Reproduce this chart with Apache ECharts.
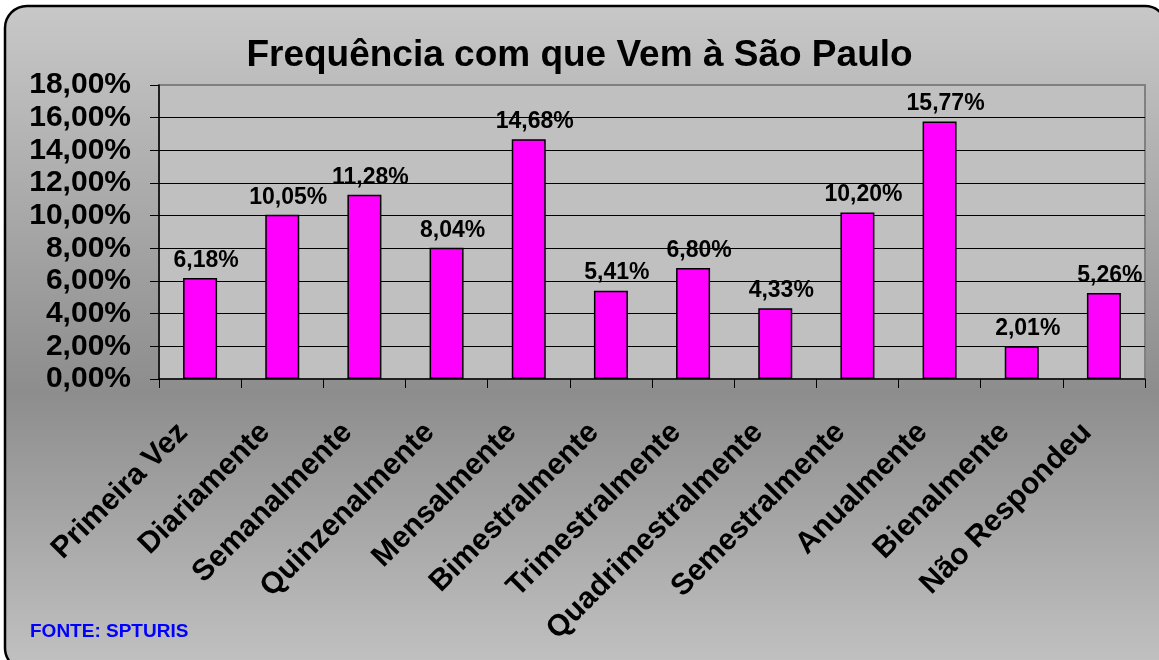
<!DOCTYPE html>
<html>
<head>
<meta charset="utf-8">
<script src="https://cdn.jsdelivr.net/npm/echarts@6/dist/echarts.min.js"></script>
<style>
  html, body { margin: 0; padding: 0; background: #fff; }
  #chart { width: 1159px; height: 660px; }
</style>
</head>
<body>
<div id="chart"></div>
<script>
const categories = ['Primeira Vez', 'Diariamente', 'Semanalmente', 'Quinzenalmente', 'Mensalmente',
  'Bimestralmente', 'Trimestralmente', 'Quadrimestralmente', 'Semestralmente', 'Anualmente',
  'Bienalmente', 'Não Respondeu'];
const values = [6.18, 10.05, 11.28, 8.04, 14.68, 5.41, 6.80, 4.33, 10.20, 15.77, 2.01, 5.26];
const titleText = 'Frequência com que Vem à São Paulo';
const sourceText = 'FONTE: SPTURIS';

const font = 'Arial, "Liberation Sans", sans-serif';
const pct = v => v.toFixed(2).replace('.', ',') + '%';

const chart = echarts.init(document.getElementById('chart'));
chart.setOption({
  animation: false,
  graphic: [
    {
      type: 'rect', z: -100, silent: true,
      shape: { x: 5, y: 6, width: 1162, height: 664, r: 22 },
      style: {
        fill: new echarts.graphic.LinearGradient(0, 0, 0, 1, [
          { offset: 0, color: '#c8c8c8' },
          { offset: 0.58, color: '#8d8d8d' },
          { offset: 1, color: '#c2c2c2' }
        ]),
        stroke: '#000', lineWidth: 2.5
      }
    },
    {
      type: 'text', left: 30, top: 622,
      style: { text: sourceText, fill: '#0000ff', font: 'bold 19px ' + font }
    }
  ],
  title: {
    text: titleText, left: 'center', top: 32,
    textStyle: { fontFamily: font, fontWeight: 'bold', fontSize: 37, color: '#000' }
  },
  grid: {
    left: 159, right: 14, top: 85, bottom: 281,
    show: true, backgroundColor: '#c0c0c0', borderColor: '#808080', borderWidth: 2
  },
  xAxis: {
    type: 'category', data: categories,
    axisLine: { lineStyle: { color: '#000', width: 1.5 } },
    axisTick: { show: true, length: 9, lineStyle: { color: '#000' } },
    axisLabel: {
      rotate: 45, margin: 32, interval: 0, color: '#000', padding: [0, 24, 0, 0],
      fontFamily: font, fontWeight: 'bold', fontSize: 30
    }
  },
  yAxis: {
    type: 'value', min: 0, max: 18, interval: 2,
    axisLine: { show: true, lineStyle: { color: '#000', width: 1.5 } },
    axisTick: { show: true, length: 9, lineStyle: { color: '#000' } },
    axisLabel: {
      margin: 28, color: '#000', fontFamily: font, fontWeight: 'bold', fontSize: 30,
      formatter: pct
    },
    splitLine: { show: true, showMinLine: false, showMaxLine: false, lineStyle: { color: '#000', width: 1 } }
  },
  series: [{
    type: 'bar', data: values, barWidth: 34,
    itemStyle: { color: '#ff00ff', borderColor: '#000', borderWidth: 1.5 },
    label: {
      show: true, position: 'top', distance: 6, offset: [6, 0],
      color: '#000', fontFamily: font, fontWeight: 'bold', fontSize: 23,
      formatter: p => pct(p.value)
    }
  }]
});
</script>
</body>
</html>
